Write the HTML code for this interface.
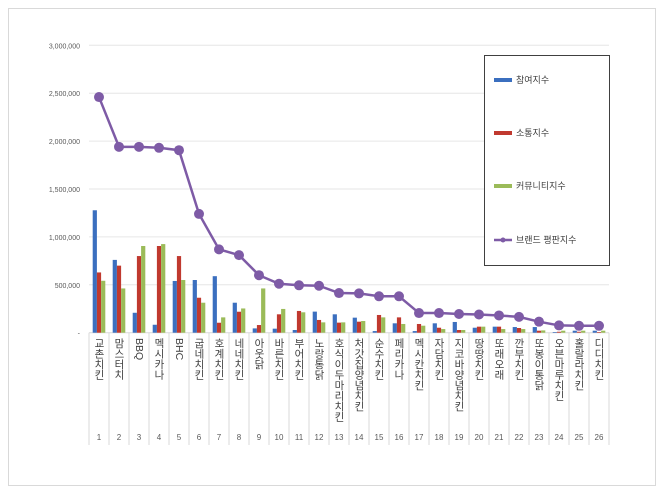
<!DOCTYPE html>
<html><head><meta charset="utf-8"><style>
body{margin:0;background:#fff;}
svg{display:block;font-family:"Liberation Sans","Noto Sans CJK KR",sans-serif;}
.lab{writing-mode:vertical-rl;}
</style></head><body>
<svg id="chart" width="660" height="493">
<rect x="8.5" y="8.5" width="647" height="477" fill="#fff" stroke="#d9d9d9"/>
<g id="grid"></g><g id="bars"></g><g id="line"></g><g id="labels"></g>
<g>
<rect x="484.5" y="55.5" width="125" height="210" fill="#fff" stroke="#404040"/>
<rect x="494" y="78" width="18" height="4" fill="#3b6fbf"/>
<text x="516" y="83" font-size="9" fill="#404040">참여지수</text>
<rect x="494" y="131" width="18" height="4" fill="#c0392f"/>
<text x="516" y="136" font-size="9" fill="#404040">소통지수</text>
<rect x="494" y="184" width="18" height="4" fill="#9bbb59"/>
<text x="516" y="189" font-size="9" fill="#404040">커뮤니티지수</text>
<line x1="494" y1="240" x2="512" y2="240" stroke="#7e5ba6" stroke-width="2.5"/>
<circle cx="503" cy="240" r="2.5" fill="#7e5ba6"/>
<text x="516" y="243" font-size="9" fill="#404040">브랜드 평판지수</text>
</g>
</svg>
<script>
const categories=["교촌치킨","맘스터치","BBQ","멕시카나","BHC","굽네치킨","호계치킨","네네치킨","아웃닭","바른치킨","부어치킨","노랑통닭","호식이두마리치킨","처갓집양념치킨","순수치킨","페리카나","멕시칸치킨","자담치킨","지코바양념치킨","땅땅치킨","또래오래","깐부치킨","또봉이통닭","오븐마루치킨","홀랄라치킨","디디치킨"];
const participation=[1278000,760000,208000,83000,540000,550000,590000,313000,45000,42000,28000,220000,192000,157000,17000,98000,17000,98000,112000,52000,63000,59000,59000,7000,21000,21000];
const communication=[629000,700000,800000,905000,800000,365000,104000,219000,80000,192000,227000,133000,105000,115000,185000,160000,91000,52000,28000,63000,63000,49000,21000,10000,10000,7000];
const community=[542000,462000,905000,925000,550000,313000,160000,253000,462000,248000,213000,108000,108000,122000,160000,91000,73000,38000,28000,63000,38000,38000,24000,21000,21000,21000];
const brand=[2460000,1940000,1940000,1930000,1905000,1240000,870000,810000,600000,511000,495000,490000,414000,410000,380000,380000,205000,205000,195000,190000,180000,165000,115000,76000,72000,72000];
const yTicks=[0,500000,1000000,1500000,2000000,2500000,3000000];
const NS="http://www.w3.org/2000/svg";
const x0=89,step=20,y0=332.7,yTop=45.3,yMax=3000000;
const X=i=>x0+step*(i+0.5);
const Y=v=>y0-(v/yMax)*(y0-yTop);
function mk(tag,attrs,parent,text){const e=document.createElementNS(NS,tag);for(const k in attrs)e.setAttribute(k,attrs[k]);if(text!==undefined)e.textContent=text;parent.appendChild(e);return e;}
const grid=document.getElementById('grid');
yTicks.forEach(t=>{
 const y=Y(t);
 if(t>0){const l=mk('line',{x1:x0,x2:609,y1:y,y2:y,stroke:'#e6e6e6'},grid);
 
 }
 const tx=mk('text',{x:80,y:y+3,'font-size':7,fill:'#595959','text-anchor':'end'},grid,t===0?'-':t.toLocaleString('en-US'));
 
 
});
mk('line',{x1:x0,x2:609,y1:y0,y2:y0,stroke:'#d9d9d9'},grid);
for(let i=0;i<=categories.length;i++){mk('line',{x1:x0+step*i,x2:x0+step*i,y1:y0,y2:445,stroke:'#d9d9d9'},grid);}
const bars=document.getElementById('bars');
const series=[[participation,'#3b6fbf','bar-participation'],[communication,'#c0392f','bar-communication'],[community,'#9bbb59','bar-community']];
categories.forEach((c,i)=>{
 series.forEach((s,k)=>{
  const v=s[0][i];const bw=4.2;const x=X(i)-6.3+k*bw;
  const r=mk('rect',{x:x,y:Y(v),width:bw,height:y0-Y(v),fill:s[1]},bars);
  
  
 });
});
const lg=document.getElementById('line');
const p=mk('polyline',{points:brand.map((v,i)=>X(i)+','+Y(v)).join(' '),fill:'none',stroke:'#7e5ba6','stroke-width':2.5},lg);


brand.forEach((v,i)=>{const c=mk('circle',{cx:X(i),cy:Y(v),r:5,fill:'#7e5ba6'},lg);
 
 });
const lb=document.getElementById('labels');
categories.forEach((c,i)=>{
 const t=mk('text',{x:X(i),y:338,'font-size':10.5,fill:'#404040',class:'lab'},lb,c);
 
 
 const n=mk('text',{x:X(i),y:440,'font-size':8,fill:'#595959','text-anchor':'middle'},lb,String(i+1));
 
 
});
</script>
</body></html>
